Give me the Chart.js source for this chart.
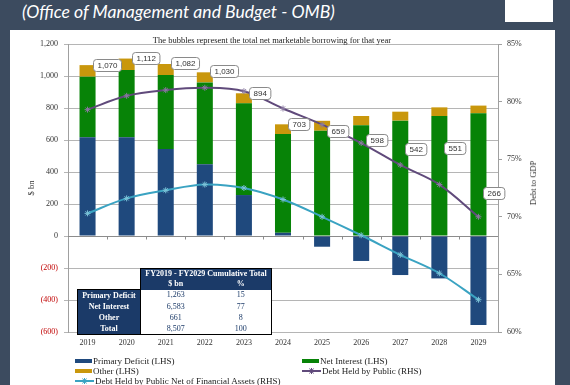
<!DOCTYPE html>
<html>
<head>
<meta charset="utf-8">
<script src="https://cdn.jsdelivr.net/npm/chart.js@4.4.1/dist/chart.umd.min.js"></script>
<style>
  html, body { margin: 0; padding: 0; }
  body { width: 570px; height: 385px; background: #3c4b5f; position: relative; overflow: hidden; font-family: "Liberation Serif", serif; }
  #head { position: absolute; left: 22px; top: 1px; color: #fff; font: italic 17.6px Lato, sans-serif; white-space: nowrap; line-height: 22px; }
  #logo { position: absolute; left: 505px; top: 0; width: 48px; height: 22px; background: #fff; }
  #panel { position: absolute; left: 10px; top: 30px; width: 545px; height: 355px; background: #fff; }
  #chart { position: absolute; left: 10px; top: 30px; }
  #sub { position: absolute; left: 0; top: 35px; width: 544px; text-align: center; font-size: 8.5px; line-height: 10px; color: #222; }
  #rtitle { position: absolute; left: 533px; top: 183px; transform: translate(-50%, -50%) rotate(-90deg); font-size: 8.5px; color: #333; white-space: nowrap; }
  #tbl { position: absolute; left: 77px; top: 268px; border-collapse: collapse; font-size: 8px; line-height: 10px; }
  #tbl td { padding: 0; text-align: center; white-space: nowrap; }
  #tbl .hd { background: #1b3a68; color: #fff; font-weight: bold; }
  #tbl .lab { background: #1b3a68; color: #fff; font-weight: bold; height: 11px; }
  #tbl .val { background: #fff; color: #1b3a68; height: 11px; }
  #legend { position: absolute; left: 75px; top: 356px; display: grid; grid-template-columns: 227px auto; grid-auto-rows: 10px; font-size: 9px; line-height: 10px; color: #222; }
  #legend div { display: flex; align-items: center; white-space: nowrap; }
  #legend svg { margin-right: 1px; }
</style>
</head>
<body>
<div id="head">(Office of Management and Budget - OMB)</div>
<div id="logo"></div>
<div id="panel"></div>
<canvas id="chart" width="545" height="355"></canvas>
<div id="sub">The bubbles represent the total net marketable borrowing for that year</div>
<div id="rtitle">Debt to GDP</div>
<table id="tbl"></table>
<div id="legend"></div>
<script>
// data ($ bn and % of GDP)
const years = ['2019', '2020', '2021', '2022', '2023', '2024', '2025', '2026', '2027', '2028', '2029'];
const primaryDeficit = [617, 617, 544, 448, 256, 20, -67, -156, -244, -265, -556];
const netInterest = [379, 420, 462, 512, 573, 617, 658, 692, 721, 750, 767];
const otherLhs = [72, 72, 69, 63, 63, 61, 62, 58, 56, 54, 48];
const debtHeldByPublic = [79.3, 80.5, 81.0, 81.2, 80.9, 79.4, 78.0, 76.4, 74.5, 72.8, 70.0];
const debtNetOfAssets = [70.3, 71.6, 72.3, 72.8, 72.5, 71.5, 70.0, 68.4, 66.7, 65.1, 62.8];
const borrowing = [1070, 1112, 1082, 1030, 894, 703, 659, 598, 542, 551, 266];

// cumulative table
const tableRows = ['Primary Deficit', 'Net Interest', 'Other', 'Total'];
const tableBn = [1263, 6583, 661, 8507];
const tablePct = [15, 77, 8, 100];

const navy = '#1f497d', green = '#078307', gold = '#c9970c', purple = '#604a7b', teal = '#3aa3c2';
const serif = 'Liberation Serif';

function fmt(v) {
  return v < 0 ? '(' + Math.abs(v).toLocaleString('en-US') + ')' : v.toLocaleString('en-US');
}

// zero axis with tick marks at category boundaries
const zeroAxis = {
  id: 'zeroAxis',
  beforeDatasetsDraw(chart) {
    const { ctx, chartArea, scales } = chart;
    const y0 = Math.round(scales.y.getPixelForValue(0)) + 0.5;
    const n = years.length;
    const step = (chartArea.right - chartArea.left) / n;
    ctx.save();
    ctx.strokeStyle = '#8c8c8c';
    ctx.lineWidth = 1;
    ctx.beginPath();
    ctx.moveTo(chartArea.left, y0);
    ctx.lineTo(chartArea.right, y0);
    for (let i = 1; i < n; i++) {
      const x = Math.round(chartArea.left + i * step) + 0.5;
      ctx.moveTo(x, y0);
      ctx.lineTo(x, y0 + 3);
    }
    ctx.stroke();
    ctx.restore();
  }
};

// bubble labels with the net marketable borrowing
const bubbles = {
  id: 'bubbles',
  afterDatasetsDraw(chart) {
    const idx = chart.data.datasets.findIndex(d => d.id === 'borrowing');
    const meta = chart.getDatasetMeta(idx);
    const { ctx } = chart;
    ctx.save();
    ctx.font = '8px "Liberation Sans", Arial, sans-serif';
    ctx.textBaseline = 'middle';
    ctx.textAlign = 'center';
    meta.data.forEach((pt, i) => {
      const txt = borrowing[i].toLocaleString('en-US');
      const w = ctx.measureText(txt).width + 8;
      const h = 12;
      const x = Math.round(pt.x + 5) + 0.5;
      const y = Math.round(pt.y - h / 2) + 0.5;
      ctx.beginPath();
      ctx.roundRect(x, y, w, h, 3);
      ctx.fillStyle = '#fff';
      ctx.fill();
      ctx.strokeStyle = '#8a8a8a';
      ctx.lineWidth = 1;
      ctx.stroke();
      ctx.fillStyle = '#333';
      ctx.fillText(txt, x + w / 2, y + h / 2 + 0.5);
    });
    ctx.restore();
  }
};

const chart = new Chart(document.getElementById('chart'), {
  type: 'bar',
  data: {
    labels: years,
    datasets: [
      { label: 'Primary Deficit (LHS)', data: primaryDeficit, backgroundColor: navy, yAxisID: 'y', order: 3 },
      { label: 'Net Interest (LHS)', data: netInterest, backgroundColor: green, yAxisID: 'y', order: 3 },
      { label: 'Other (LHS)', data: otherLhs, backgroundColor: gold, yAxisID: 'y', order: 3 },
      { type: 'line', label: 'Debt Held by Public (RHS)', data: debtHeldByPublic, yAxisID: 'y1',
        borderColor: purple, borderWidth: 2, tension: 0.35, pointStyle: 'star', pointRadius: 3,
        pointBorderColor: '#8a7aa0', pointBorderWidth: 1, order: 1 },
      { type: 'line', label: 'Debt Held by Public Net of Financial Assets (RHS)', data: debtNetOfAssets, yAxisID: 'y1',
        borderColor: teal, borderWidth: 2, tension: 0.35, pointStyle: 'star', pointRadius: 3,
        pointBorderColor: '#7cc3d8', pointBorderWidth: 1, order: 1 },
      { type: 'line', id: 'borrowing', label: 'Net marketable borrowing', data: borrowing, yAxisID: 'y',
        stack: 'labels', showLine: false, pointRadius: 0, order: 0, legend: false }
    ]
  },
  options: {
    responsive: false,
    animation: false,
    devicePixelRatio: 1,
    layout: { padding: { top: 14, bottom: 37, left: 0, right: 0 } },
    datasets: { bar: { barPercentage: 0.41, categoryPercentage: 1 } },
    plugins: { legend: { display: false }, tooltip: { enabled: false }, title: { display: false } },
    scales: {
      x: {
        stacked: true,
        grid: { display: false, drawTicks: false, tickLength: 0 },
        border: { display: true, color: '#b5b5b5' },
        ticks: { font: { family: serif, size: 8 }, color: '#333', padding: 6, maxRotation: 0 },
        afterFit(s) { s.height = 16; }
      },
      y: {
        stacked: true,
        min: -600, max: 1200,
        ticks: { stepSize: 200, font: { family: serif, size: 8 }, padding: 6,
          color: c => c.tick.value < 0 ? '#c00000' : '#333',
          callback: v => fmt(v) },
        grid: { color: '#b5b5b5', tickLength: 4 },
        border: { color: '#a0a0a0' },
        title: { display: true, text: '$ bn', font: { family: serif, size: 8.5 }, color: '#333', padding: { top: 17, bottom: 0 } },
        afterFit(s) { s.width = 58; }
      },
      y1: {
        position: 'right',
        min: 60, max: 85,
        ticks: { stepSize: 5, font: { family: serif, size: 8 }, color: '#333', padding: 5, callback: v => v + '%' },
        grid: { drawOnChartArea: false, color: '#a0a0a0', tickLength: 4 },
        border: { color: '#a0a0a0' },
        afterFit(s) { s.width = 57; }
      }
    }
  },
  plugins: [zeroAxis, bubbles]
});

// table of cumulative totals
function buildTable() {
  const t = document.getElementById('tbl');
  let html = '<colgroup><col style="width:63px"><col style="width:70px"><col style="width:61px"></colgroup>';
  html += '<tr><td style="height:10px"></td><td class="hd" colspan="2" style="border:1px solid #000;border-bottom:0">FY2019 - FY2029 Cumulative Total</td></tr>';
  html += '<tr><td style="height:10px"></td><td class="hd" style="border-left:1px solid #000">$ bn</td><td class="hd" style="border-right:1px solid #000">%</td></tr>';
  tableRows.forEach((name, i) => {
    const last = i === tableRows.length - 1;
    const bb = last ? 'border-bottom:1px solid #000;' : '';
    html += '<tr><td class="lab" style="border-left:1px solid #000;' + (i === 0 ? 'border-top:1px solid #000;' : '') + bb + '">' + name + '</td>' +
      '<td class="val" style="border-left:1px solid #000;' + bb + '">' + tableBn[i].toLocaleString('en-US') + '</td>' +
      '<td class="val" style="border-right:1px solid #000;' + bb + '">' + tablePct[i] + '</td></tr>';
  });
  t.innerHTML = html;
}

// legend built from the datasets
function buildLegend() {
  const box = document.getElementById('legend');
  chart.data.datasets.forEach(ds => {
    if (ds.legend === false) return;
    const item = document.createElement('div');
    let sw;
    if (ds.type === 'line') {
      sw = '<svg width="19" height="6"><line x1="0" y1="3" x2="19" y2="3" stroke="' + ds.borderColor + '" stroke-width="2"/>' +
        '<path d="M7.5 0.5 L11.5 5.5 M11.5 0.5 L7.5 5.5 M9.5 0 L9.5 6" stroke="' + ds.borderColor + '" stroke-width="1"/></svg>';
    } else {
      sw = '<svg width="17" height="6"><rect x="0" y="1" width="17" height="4" fill="' + ds.backgroundColor + '"/></svg>';
    }
    item.innerHTML = sw + '<span>' + ds.label + '</span>';
    box.appendChild(item);
  });
}

buildTable();
buildLegend();
</script>
</body>
</html>
